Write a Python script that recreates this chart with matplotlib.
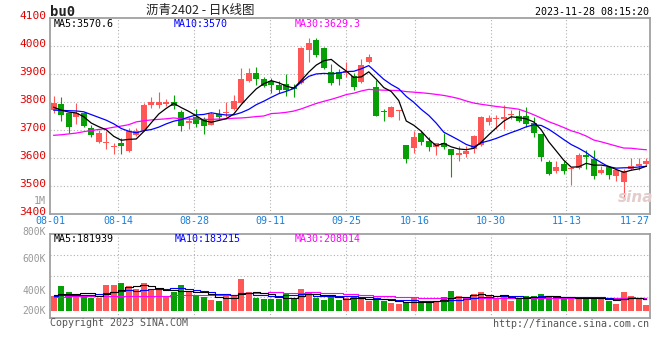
import numpy as np
import matplotlib
matplotlib.use("Agg")
import matplotlib.pyplot as plt
from matplotlib.transforms import offset_copy

W, H, DPI = 660, 360, 100

# ---------------- data ----------------
date_labels = ["08-01", "08-14", "08-28", "09-11", "09-25", "10-16", "10-30", "11-13", "11-27"]
date_label_index = [0, 9, 19, 29, 39, 48, 58, 68, 78]

open_ = [3772, 3793, 3760, 3748, 3760, 3706, 3657, 3653, 3640, 3655,
         3626, 3682, 3698, 3788, 3788, 3793, 3800, 3764, 3724, 3745,
         3740, 3719, 3757, 3762, 3774, 3798, 3876, 3905, 3882, 3876,
         3862, 3864, 3855, 3867, 3986, 4021, 3993, 3907, 3907, 3905,
         3893, 3873, 3943, 3852, 3766, 3748, 3767, 3645, 3636, 3688,
         3660, 3638, 3655, 3633, 3610, 3614, 3633, 3645, 3729, 3738,
         3738, 3752, 3750, 3750, 3724, 3686, 3586, 3555, 3579, 3562,
         3564, 3610, 3598, 3548, 3569, 3536, 3515, 3560, 3571, 3579]
high = [3821, 3819, 3760, 3798, 3765, 3718, 3700, 3697, 3652, 3670,
        3706, 3708, 3797, 3819, 3836, 3810, 3824, 3771, 3745, 3774,
        3745, 3764, 3774, 3800, 3824, 3921, 3920, 3924, 3888, 3885,
        3876, 3900, 3864, 3995, 4029, 4029, 3995, 3936, 3917, 3943,
        3902, 3955, 3971, 3879, 3776, 3786, 3771, 3645, 3695, 3698,
        3674, 3655, 3688, 3633, 3643, 3643, 3681, 3750, 3755, 3752,
        3788, 3771, 3771, 3781, 3748, 3686, 3593, 3590, 3590, 3564,
        3617, 3629, 3629, 3571, 3569, 3557, 3560, 3600, 3600, 3600]
low = [3762, 3733, 3690, 3721, 3710, 3676, 3655, 3632, 3613, 3613,
       3622, 3678, 3695, 3779, 3779, 3786, 3774, 3698, 3705, 3712,
       3686, 3717, 3740, 3745, 3771, 3795, 3872, 3861, 3852, 3833,
       3833, 3821, 3819, 3864, 3944, 3962, 3917, 3862, 3861, 3888,
       3843, 3867, 3940, 3750, 3733, 3745, 3736, 3583, 3619, 3648,
       3626, 3610, 3633, 3531, 3590, 3602, 3617, 3643, 3717, 3702,
       3702, 3738, 3729, 3710, 3674, 3590, 3540, 3548, 3543, 3505,
       3562, 3562, 3526, 3543, 3526, 3519, 3456, 3557, 3557, 3574]
close = [3796, 3755, 3712, 3760, 3714, 3683, 3690, 3657, 3643, 3644,
         3698, 3698, 3789, 3800, 3800, 3800, 3786, 3714, 3733, 3721,
         3714, 3757, 3745, 3765, 3805, 3881, 3902, 3881, 3857, 3860,
         3843, 3843, 3845, 3993, 4010, 3968, 3921, 3869, 3883, 3912,
         3852, 3932, 3960, 3750, 3764, 3781, 3771, 3595, 3674, 3657,
         3638, 3655, 3638, 3611, 3619, 3626, 3679, 3748, 3743, 3743,
         3745, 3757, 3733, 3721, 3688, 3605, 3543, 3569, 3555, 3564,
         3612, 3605, 3536, 3557, 3540, 3557, 3555, 3573, 3580, 3588]
volume = [231000, 394000, 298000, 239000, 239000, 207000, 207000, 410000, 410000, 447000,
          394000, 346000, 447000, 327000, 327000, 223000, 298000, 410000, 303000, 255000,
          223000, 171000, 155000, 234000, 234000, 506000, 292000, 204000, 183000, 183000,
          191000, 284000, 199000, 348000, 298000, 207000, 172000, 212000, 171000, 196000,
          223000, 187000, 160000, 187000, 160000, 128000, 107000, 128000, 196000, 128000,
          155000, 155000, 219000, 316000, 234000, 196000, 266000, 298000, 234000, 196000,
          234000, 156000, 196000, 234000, 234000, 266000, 234000, 207000, 187000, 219000,
          190000, 190000, 192000, 192000, 158000, 107000, 298000, 234000, 187000, 84000]

# moving-average values before a full window exists
ma5_head = [3781, 3771, 3764, 3761]
ma10_head = [3771, 3770, 3769, 3768, 3765, 3755, 3745, 3735, 3722]
ma30_head = [3681, 3683, 3686, 3689, 3694, 3698, 3702, 3705, 3710, 3714,
             3719, 3729, 3733, 3736, 3738, 3740, 3743, 3740, 3739, 3738,
             3738, 3738, 3739, 3740, 3742, 3743, 3745, 3748, 3750]
vma5_head = [245000, 260000, 266000, 266000]
vma10_head = [229000, 245000, 250000, 250000, 252000, 255000, 262000, 278000, 295000]
vma30_head = [223000, 223000, 234000, 234000, 234000, 234000, 234000, 239000, 239000, 239000,
              239000, 239000, 239000, 239000, 239000, 239000, 245000, 245000, 245000, 245000,
              245000, 245000, 250000, 250000, 250000, 276000, 276000, 276000, 276000]

price_ticks = [3400, 3500, 3600, 3700, 3800, 3900, 4000, 4100]
vol_tick_labels = ["800K", "600K", "400K", "200K"]

title_text = "沥青2402 - 日K线图"
code_text = "bu0"
time_text = "2023-11-28 08:15:20"
price_legend = ["MA5:3570.6", "MA10:3570", "MA30:3629.3"]
vol_legend = ["MA5:181939", "MA10:183215", "MA30:208014"]

# ---------------- helpers ----------------
def rolling(values, n, head):
    v = np.asarray(values, dtype=float)
    out = np.empty(len(v))
    out[:len(head)] = head
    for i in range(len(head), len(v)):
        out[i] = v[i - n + 1:i + 1].mean()
    return out

o = np.array(open_, float); c = np.array(close, float)
h = np.array(high, float); l = np.array(low, float)
vol = np.array(volume, float)
n = len(c)
x = np.arange(n) + 0.5
up = c >= o

RED = "#ff5656"
GREEN = "#06a006"
MA_COLORS = ["#000000", "#0000ff", "#ff00ff"]
GRID = "#b0b0b0"
BORDER = "#a0a0a0"
MONO = "DejaVu Sans Mono"

fig = plt.figure(figsize=(W / DPI, H / DPI), dpi=DPI, facecolor="white")

def fx(px):
    return px / W

def fy(py):
    return 1 - py / H

# price axes: pixel top 18, bottom 214
axp = fig.add_axes([fx(50), fy(214), fx(600), (214 - 18) / H])
# volume axes: pixel top 234, bottom 318
axv = fig.add_axes([fx(50), fy(318), fx(600), (318 - 234) / H])

grid_x = [i * n / (n - 1) for i in date_label_index]

for ax in (axp, axv):
    ax.set_xlim(0, n)
    ax.set_xticks([])
    ax.set_yticks([])
    for s in ax.spines.values():
        s.set_color(BORDER)
        s.set_linewidth(1.3)
    for gx in grid_x[1:-1]:
        ax.axvline(gx, color=GRID, lw=0.8, ls=(0, (1, 2)), zorder=0)

# ---- price panel ----
axp.set_ylim(price_ticks[0], price_ticks[-1])
for t in price_ticks[1:-1]:
    axp.axhline(t, color=GRID, lw=0.8, ls=(0, (1, 2)), zorder=0)
ylab_tr = offset_copy(axp.get_yaxis_transform(), fig=fig, x=0, y=1.5, units="dots")
for t in price_ticks:
    axp.text(-4 / 600, t, str(t), transform=ylab_tr, ha="right", va="center",
             color="#e00000", fontfamily=MONO, fontsize=8)

cols = np.where(up, RED, GREEN)
axp.vlines(x, l, h, colors=cols, lw=0.8, zorder=2)
body_bottom = np.minimum(o, c)
body_h = np.maximum(np.abs(c - o), 3.0)
axp.bar(x, body_h, bottom=body_bottom, width=0.8, color=cols, linewidth=0, zorder=3)

ma5 = rolling(c, 5, ma5_head)
ma10 = rolling(c, 10, ma10_head)
ma30 = rolling(c, 30, ma30_head)
for ma, colr in zip([ma30, ma10, ma5], MA_COLORS[::-1]):
    axp.plot(x, ma, color=colr, lw=0.9, zorder=4)

for txt, colr, px in zip(price_legend, MA_COLORS, [54, 174, 295]):
    fig.text(fx(px), fy(24), txt, color=colr, fontfamily=MONO, fontsize=7.2,
             ha="left", va="center")

# date labels
for lab, gx, idx in zip(date_labels, grid_x, date_label_index):
    last = idx == date_label_index[-1]
    axp.text(n if last else gx, -7.5 / 196, lab,
             transform=axp.get_xaxis_transform(), ha="right" if last else "center",
             va="center", color="#1a7fd8", fontfamily=MONO, fontsize=7.2)

fig.text(fx(46), fy(200.5), "1M", color="#999999", fontfamily=MONO, fontsize=7.2,
         ha="right", va="center")

# sina watermark
fig.text(fx(636), fy(197), "sina", color="#e3cccc", fontsize=11, fontweight="bold",
         fontstyle="italic", ha="center", va="center", zorder=1)

# ---- volume panel ----
vol_px_per_unit = 6.27 / 100000
axv.set_ylim(-(318 - 310.7) / vol_px_per_unit, (310.7 - 234) / vol_px_per_unit)
for f in (0.25, 0.5, 0.75):
    axv.plot([0, 1], [f, f], transform=axv.transAxes, color=GRID, lw=0.8,
             ls=(0, (1, 2)), zorder=0)
axv.bar(x, vol, width=0.8, color=cols, linewidth=0, zorder=2)

vma5 = rolling(vol, 5, vma5_head)
vma10 = rolling(vol, 10, vma10_head)
vma30 = rolling(vol, 30, vma30_head)
for ma, colr in zip([vma30, vma10, vma5], MA_COLORS[::-1]):
    axv.plot(x, ma, color=colr, lw=0.8, drawstyle="steps-mid", zorder=4)

for txt, colr, px in zip(vol_legend, MA_COLORS, [54, 175, 295]):
    fig.text(fx(px), fy(238.5), txt, color=colr, fontfamily=MONO, fontsize=7.2,
             ha="left", va="center")

for lab, py in zip(vol_tick_labels, [231.5, 259.5, 290.5, 310.7]):
    fig.text(fx(46), fy(py), lab, color="#999999", fontfamily=MONO, fontsize=7.0,
             ha="right", va="center")

# ---- header / footer ----
fig.text(fx(200), fy(10), title_text, color="#222222",
         fontfamily=["Noto Sans CJK SC", "DejaVu Sans"], fontsize=9,
         ha="center", va="center")
fig.text(fx(50), fy(11.5), code_text, color="#222222", fontfamily=MONO,
         fontsize=10, fontweight="bold", ha="left", va="center")
fig.text(fx(649), fy(12), time_text, color="#000000", fontfamily=MONO,
         fontsize=7.2, ha="right", va="center")
fig.text(fx(50), fy(323.5), "Copyright 2023 SINA.COM", color="#555555",
         fontfamily=MONO, fontsize=7.2, ha="left", va="center")
fig.text(fx(649), fy(324), "http://finance.sina.com.cn", color="#555555",
         fontfamily=MONO, fontsize=7.2, ha="right", va="center")

fig.savefig("out.png", dpi=DPI, facecolor="white")
